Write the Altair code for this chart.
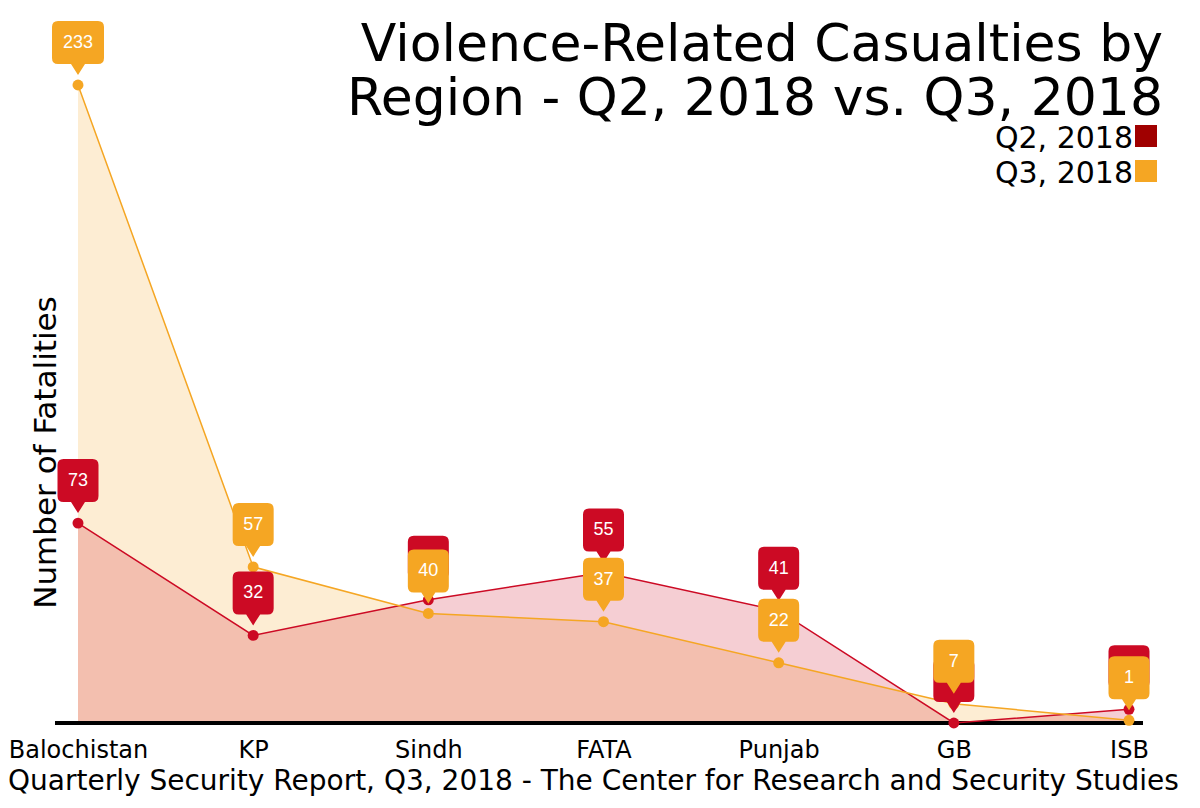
import altair as alt
import pandas as pd

regions = ["Balochistan", "KP", "Sindh", "FATA", "Punjab", "GB", "ISB"]
q2_values = [73, 32, 45, 55, 41, 0, 5]
q3_values = [233, 57, 40, 37, 22, 7, 1]
series_names = ["Q2, 2018", "Q3, 2018"]
title_lines = ["Violence-Related Casualties by", "Region - Q2, 2018 vs. Q3, 2018"]
y_title = "Number of Fatalities"
footer = "Quarterly Security Report, Q3, 2018 - The Center for Research and Security Studies"

RED = "#CC0A24"
ORANGE = "#F5A623"
LEG_RED = "#A00000"
FONT = "DejaVu Sans"

rows = []
for r, a, b in zip(regions, q2_values, q3_values):
    rows.append({"region": r, "series": series_names[0], "value": a})
    rows.append({"region": r, "series": series_names[1], "value": b})
df = pd.DataFrame(rows)

W, H = 1088, 638


def bubble_path(half_w):
    # pixel geometry, 1 unit = 50 px (size 10000)
    u = 50.0
    x0, x1, y0, y1, r = -half_w, half_w, -64.0, -21.0, 6.0
    pts = [
        ("M", x0 + r, y0), ("L", x1 - r, y0), ("Q", x1, y0, x1, y0 + r),
        ("L", x1, y1 - r), ("Q", x1, y1, x1 - r, y1), ("L", 7, y1),
        ("L", 0, -10), ("L", -7, y1), ("L", x0 + r, y1),
        ("Q", x0, y1, x0, y1 - r), ("L", x0, y0 + r), ("Q", x0, y0, x0 + r, y0),
    ]
    out = []
    for p in pts:
        cmd = p[0]
        nums = " ".join(f"{v / u:.4f}" for v in p[1:])
        out.append(f"{cmd}{nums}")
    return " ".join(out) + " Z"


PATH_N = bubble_path(20.5)
PATH_W = bubble_path(26)

x_enc = alt.X("region:N", sort=regions,
              scale=alt.Scale(type="point", range=[23, 1074], padding=0),
              axis=alt.Axis(title=None, labelFont=FONT, labelFontSize=24, labelColor="#000",
                            labelAngle=0, ticks=False, domain=False,
                            labelPadding=15, grid=False))
y_enc = alt.Y("value:Q", scale=alt.Scale(domain=[0, 233], nice=False, zero=True),
              axis=alt.Axis(title=y_title, titleFont=FONT, titleFontSize=31, titleFontWeight="normal",
                            titleColor="#000", labels=False, ticks=False, domain=False, grid=False,
                            titleAngle=-90, titleX=0, titleY=367, titleAlign="center",
                            titleBaseline="alphabetic"))

base = alt.Chart(df)

area_q3 = base.transform_filter(alt.datum.series == series_names[1]).mark_area(
    color=ORANGE, opacity=0.2).encode(x=x_enc, y=y_enc)
area_q2 = base.transform_filter(alt.datum.series == series_names[0]).mark_area(
    color=RED, opacity=0.2).encode(x=x_enc, y=y_enc)

baseline_rule = alt.Chart(pd.DataFrame({"v": [0]})).mark_rule(color="#000", strokeWidth=4).encode(
    x=alt.value(0), x2=alt.value(W), y=alt.value(H))

color = alt.Color("series:N", scale=alt.Scale(domain=series_names, range=[RED, ORANGE]), legend=None)
lines = base.mark_line(strokeWidth=1.5).encode(x=x_enc, y=y_enc, color=color)
points = base.mark_circle(size=120, opacity=1).encode(x=x_enc, y=y_enc, color=color)

shape = alt.Shape("w:N", scale=alt.Scale(domain=["n", "w"], range=[PATH_N, PATH_W]), legend=None)


def bubbles(sname, col):
    b = base.transform_filter(alt.datum.series == sname).transform_calculate(
        w="length(toString(datum.value)) > 2 ? 'w' : 'n'")
    bub = b.mark_point(filled=True, size=10000, opacity=1, strokeWidth=0, color=col).encode(
        x=x_enc, y=y_enc, shape=shape)
    txt = b.mark_text(dy=-42, color="white", font="Liberation Sans", fontSize=18,
                      baseline="middle").encode(x=x_enc, y=y_enc, text="value:Q")
    return bub + txt


title1 = alt.Chart(pd.DataFrame({"t": [title_lines[0]]})).mark_text(
    font=FONT, fontSize=52, align="right", baseline="alphabetic", color="#000").encode(
    text="t:N", x=alt.value(1108), y=alt.value(-24))
title2 = alt.Chart(pd.DataFrame({"t": [title_lines[1]]})).mark_text(
    font=FONT, fontSize=52, align="right", baseline="alphabetic", color="#000").encode(
    text="t:N", x=alt.value(1108), y=alt.value(30))

leg_layers = []
for i, (s, c) in enumerate(zip(series_names, [LEG_RED, ORANGE])):
    d = pd.DataFrame({"s": [s]})
    leg_layers.append(alt.Chart(d).mark_text(font=FONT, fontSize=30, align="right",
                                             baseline="alphabetic", color="#000").encode(
        text="s:N", x=alt.value(1078), y=alt.value(63 + 35 * i)))
    leg_layers.append(alt.Chart(d).mark_square(size=484, opacity=1, color=c).encode(
        x=alt.value(1091), y=alt.value(51 + 35 * i)))

foot = alt.Chart(pd.DataFrame({"t": [footer]})).mark_text(
    font=FONT, fontSize=28, align="left", baseline="alphabetic", color="#000").encode(
    text="t:N", x=alt.value(-47), y=alt.value(705))

chart = alt.layer(
    area_q3, area_q2, baseline_rule, lines, points,
    bubbles(series_names[0], RED), bubbles(series_names[1], ORANGE),
    title1, title2, *leg_layers, foot
).properties(
    width=W, height=H,
    background="white",
    autosize=alt.AutoSizeParams(type="none"),
    padding={"left": 47, "top": 77, "right": 49, "bottom": 77},
).configure_view(stroke=None, strokeWidth=0)

chart.save("out.html", embed_options={"renderer": "svg", "actions": False})
